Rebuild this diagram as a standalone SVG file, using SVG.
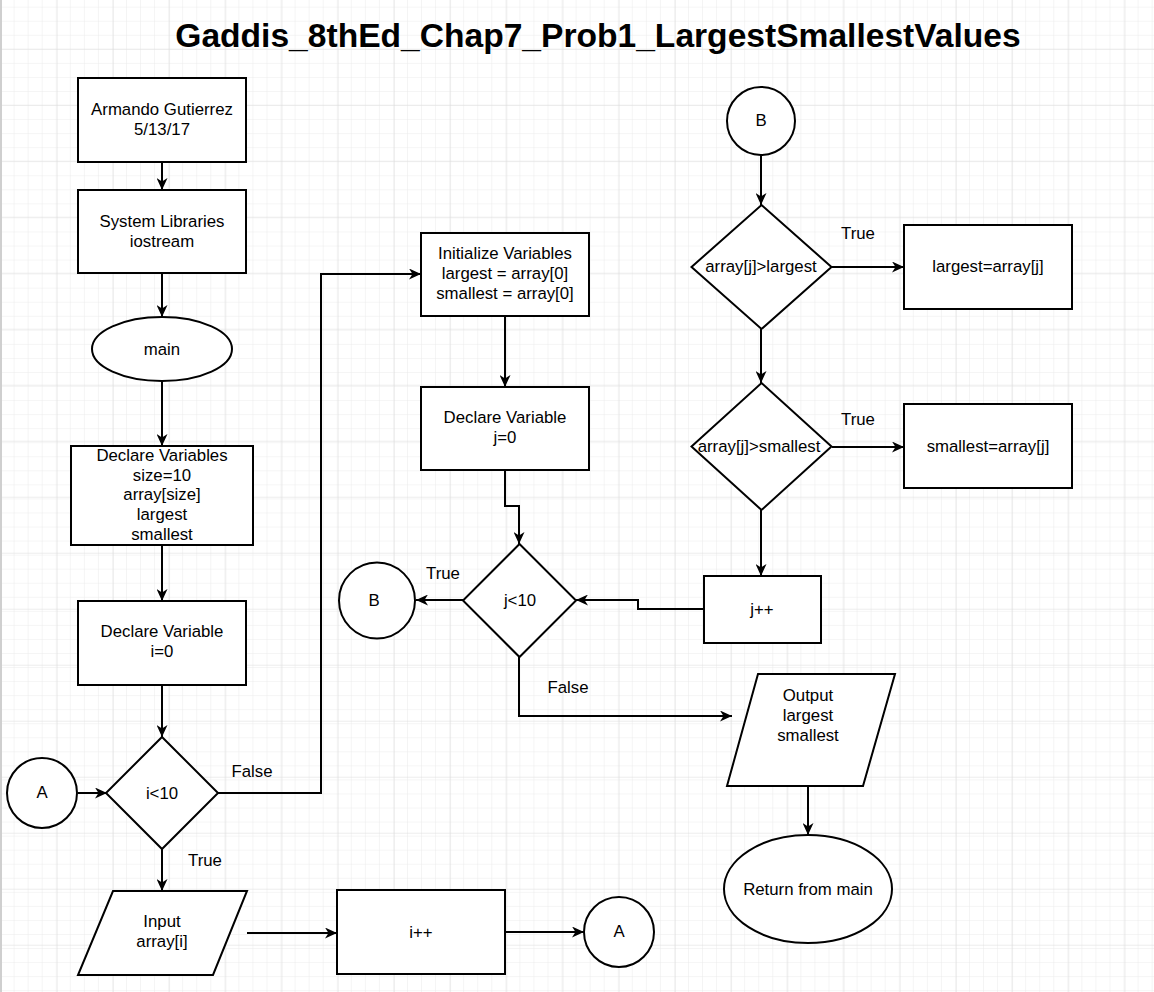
<svg xmlns="http://www.w3.org/2000/svg" width="1154" height="992" viewBox="0 0 1154 992">
<defs>
<pattern id="minor" x="0.5" y="6.7" width="14.05" height="14.05" patternUnits="userSpaceOnUse">
<path d="M14.05 0 V14.05 M0 0 H14.05" fill="none" stroke="#ebebeb" stroke-width="1"/>
</pattern>
<pattern id="major" x="0.5" y="48.7" width="56.2" height="56" patternUnits="userSpaceOnUse">
<path d="M0 0 V56 M0 0 H56.2" fill="none" stroke="#dcdcdc" stroke-width="1"/>
</pattern>
<marker id="arr" markerWidth="13" markerHeight="11" refX="12" refY="5.5" orient="auto" markerUnits="userSpaceOnUse">
<path d="M0,0 L12,5.5 L0,11 L3.5,5.5 Z" fill="#000"/>
</marker>
<style>
.s{fill:#fff;stroke:#000;stroke-width:2}
.t{font-family:"Liberation Sans",Arial,sans-serif;font-size:16.8px;fill:#000;text-anchor:middle}
.c{fill:none;stroke:#000;stroke-width:2}
.ca{fill:none;stroke:#000;stroke-width:2;marker-end:url(#arr)}
.title{font-family:"Liberation Sans",Arial,sans-serif;font-size:33.6px;font-weight:bold;text-anchor:middle}
</style>
</defs>
<rect width="1154" height="992" fill="#fff"/>
<rect width="1154" height="992" fill="url(#minor)"/>
<rect width="1154" height="992" fill="url(#major)"/>
<rect x="0" y="0" width="2" height="992" fill="#cfcfcf"/>

<text class="title" x="598" y="47">Gaddis_8thEd_Chap7_Prob1_LargestSmallestValues</text>

<g id="connectors">
<path class="ca" d="M162 162 V190"/>
<path class="ca" d="M162 273 V317"/>
<path class="ca" d="M162 381 V446"/>
<path class="ca" d="M162 545 V601"/>
<path class="ca" d="M162 685 V737"/>
<path class="ca" d="M78 793 H107"/>
<path class="ca" d="M218 793 H321 V274 H421"/>
<path class="ca" d="M162 849 V891"/>
<path class="ca" d="M247 933 H337"/>
<path class="ca" d="M505 932 H584"/>
<path class="ca" d="M505 316 V387"/>
<path class="ca" d="M505 470 V506 H519 V544"/>
<path class="ca" d="M463 600 H416"/>
<path class="ca" d="M519 657 V716 H732"/>
<path class="ca" d="M761 155 V205"/>
<path class="ca" d="M832 267 H904"/>
<path class="ca" d="M761 329 V383"/>
<path class="ca" d="M832 447 H904"/>
<path class="ca" d="M761 510 V576"/>
<path class="ca" d="M704 609 H638 V600 H576"/>
<path class="ca" d="M808 786 V835"/>
<text class="t" x="252" y="777">False</text>
<text class="t" x="205" y="866">True</text>
<text class="t" x="443" y="579">True</text>
<text class="t" x="568" y="693">False</text>
<text class="t" x="858" y="239">True</text>
<text class="t" x="858" y="425">True</text>
</g>

<g id="n_author"><rect class="s" x="78" y="78" width="168" height="84"/>
<text class="t" x="162" y="115">Armando Gutierrez</text><text class="t" x="162" y="135">5/13/17</text></g>
<g id="n_libs"><rect class="s" x="78" y="190" width="168" height="83"/>
<text class="t" x="162" y="227">System Libraries</text><text class="t" x="162" y="247">iostream</text></g>
<g id="n_main"><ellipse class="s" cx="162" cy="349" rx="70" ry="32"/>
<text class="t" x="162" y="355">main</text></g>
<g id="n_declvars"><rect class="s" x="71" y="446" width="182" height="99"/>
<text class="t" x="162" y="461">Declare Variables</text><text class="t" x="162" y="481">size=10</text><text class="t" x="162" y="500">array[size]</text><text class="t" x="162" y="520">largest</text><text class="t" x="162" y="540">smallest</text></g>
<g id="n_decli"><rect class="s" x="78" y="601" width="168" height="84"/>
<text class="t" x="162" y="637">Declare Variable</text><text class="t" x="162" y="657">i=0</text></g>
<g id="n_ilt10"><path class="s" d="M162 737 L218 793 L162 849 L106 793 Z"/>
<text class="t" x="162" y="799">i&lt;10</text></g>
<g id="n_A1"><circle class="s" cx="42" cy="793" r="35"/>
<text class="t" x="42" y="798">A</text></g>
<g id="n_input"><path class="s" d="M113 891 L247 891 L213 975 L78 975 Z"/>
<text class="t" x="162" y="927">Input</text><text class="t" x="162" y="947">array[i]</text></g>
<g id="n_iinc"><rect class="s" x="337" y="890" width="168" height="84"/>
<text class="t" x="421" y="938">i++</text></g>
<g id="n_A2"><circle class="s" cx="619" cy="932" r="35"/>
<text class="t" x="619" y="937">A</text></g>
<g id="n_init"><rect class="s" x="421" y="233" width="168" height="83"/>
<text class="t" x="505" y="259">Initialize Variables</text><text class="t" x="505" y="279">largest = array[0]</text><text class="t" x="505" y="299">smallest = array[0]</text></g>
<g id="n_declj"><rect class="s" x="421" y="387" width="168" height="83"/>
<text class="t" x="505" y="423">Declare Variable</text><text class="t" x="505" y="443">j=0</text></g>
<g id="n_jlt10"><path class="s" d="M519.5 544 L576 600.5 L519.5 657 L463 600.5 Z"/>
<text class="t" x="520" y="606">j&lt;10</text></g>
<g id="n_B1"><circle class="s" cx="377" cy="600.5" r="38"/>
<text class="t" x="374" y="606">B</text></g>
<g id="n_B2"><circle class="s" cx="761" cy="121" r="34"/>
<text class="t" x="761" y="126">B</text></g>
<g id="n_cmpL"><path class="s" d="M761.5 205 L831.5 267 L761.5 329 L691.5 267 Z"/>
<text class="t" x="761" y="272">array[j]&gt;largest</text></g>
<g id="n_setL"><rect class="s" x="904" y="225" width="168" height="84"/>
<text class="t" x="988" y="272">largest=array[j]</text></g>
<g id="n_cmpS"><path class="s" d="M761.5 383 L831.5 446.5 L761.5 510 L691.5 446.5 Z"/>
<text class="t" x="759" y="452">array[j]&gt;smallest</text></g>
<g id="n_setS"><rect class="s" x="904" y="404" width="168" height="84"/>
<text class="t" x="988" y="452">smallest=array[j]</text></g>
<g id="n_jinc"><rect class="s" x="704" y="576" width="117" height="67"/>
<text class="t" x="762" y="615">j++</text></g>
<g id="n_output"><path class="s" d="M758 674 L895 674 L863 786 L727 786 Z"/>
<text class="t" x="808" y="701">Output</text><text class="t" x="808" y="721">largest</text><text class="t" x="808" y="741">smallest</text></g>
<g id="n_return"><ellipse class="s" cx="808" cy="889" rx="84" ry="54"/>
<text class="t" x="808" y="895">Return from main</text></g>
</svg>
